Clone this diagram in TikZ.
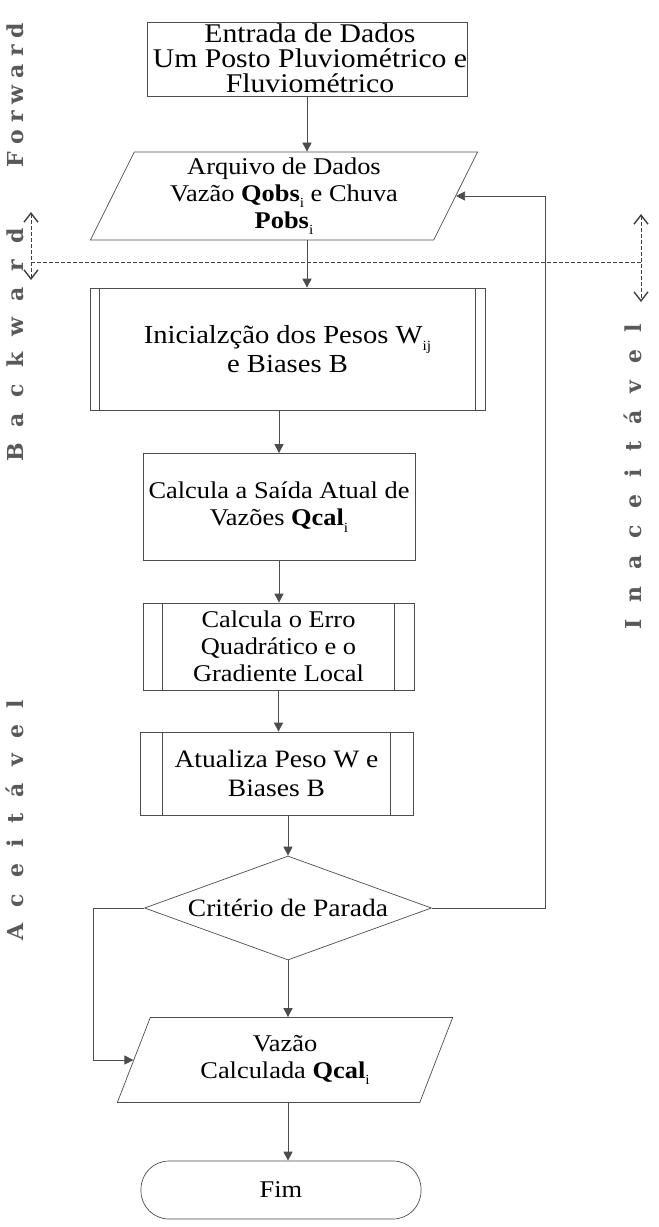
\documentclass[tikz,border=0pt]{standalone}
\usepackage{fontspec}
\setmainfont{Liberation Serif}[FakeStretch=1.1]
\newfontfamily\sidefont{DejaVu Serif}
\usetikzlibrary{shapes.geometric,arrows.meta,calc}
\makeatletter
\newcommand\spaced[2]{\@tfor\sp@c:=#2\do{\sp@c\hspace{#1}}\unskip}
\makeatother
\newcommand\sbs[1]{\raisebox{-0.6ex}{\fontsize{14}{14}\selectfont #1}}
\begin{document}
\begin{tikzpicture}[x=1pt,y=-1pt,
  line/.style={draw=black!70, line width=0.7pt},
  arr/.style={line, -{Triangle[length=9pt,width=9pt]}},
  txt/.style={align=center, inner sep=1pt, font=\fontsize{24}{27}\selectfont},
  box/.style={line, rectangle, txt},
  para/.style={line, txt, trapezium, trapezium stretches=true},
  dia/.style={line, txt, diamond, aspect=2.76, inner sep=0pt},
  dline/.style={draw=black!75, line width=0.7pt, dash pattern=on 4pt off 2pt},
  dbl/.style={dline, {Straight Barb[length=9pt,width=14pt,line width=1.4pt]}-{Straight Barb[length=9pt,width=14pt,line width=1.4pt]}},
  side/.style={font=\sidefont\bfseries\fontsize{22}{22}\selectfont, text=black!65, inner sep=0pt}
]
\useasboundingbox (0,0) rectangle (659,1227);

% box 1
\node[line, rectangle, minimum width=320, minimum height=74] (b1) at (307,59) {};
\node[txt, font=\fontsize{27}{25}\selectfont] (t1) at (310,58) {Entrada de Dados\\Um Posto Pluviométrico e\\Fluviométrico};

% data file
\node[para, trapezium left angle=67, trapezium right angle=113, minimum width=388, minimum height=88] (p1) at (284,196)
  {Arquivo de Dados\\Vazão \textbf{Qobs}\sbs{i} e Chuva\\\textbf{Pobs}\sbs{i}};

% init
\node[box, font=\fontsize{26}{29}\selectfont, minimum width=395, minimum height=122] (b3) at (287.5,349) {Inicialzção dos Pesos W\sbs{ij}\\e Biases B};
\draw[line] ([xshift=10pt]b3.north west) -- ([xshift=10pt]b3.south west);
\draw[line] ([xshift=-10pt]b3.north east) -- ([xshift=-10pt]b3.south east);

% output
\node[box, minimum width=272, minimum height=107] (b4) at (279,507) {Calcula a Saída Atual de\\Vazões \textbf{Qcal}\sbs{i}};

% error
\node[box, minimum width=271, minimum height=87] (b5) at (278.5,646.5) {Calcula o Erro\\Quadrático e o\\Gradiente Local};
\draw[line] ([xshift=20pt]b5.north west) -- ([xshift=20pt]b5.south west);
\draw[line] ([xshift=-20pt]b5.north east) -- ([xshift=-20pt]b5.south east);

% update
\node[box, font=\fontsize{25}{29}\selectfont, minimum width=273, minimum height=83] (b6) at (276.5,773.5) {Atualiza Peso W e\\Biases B};
\draw[line] ([xshift=23pt]b6.north west) -- ([xshift=23pt]b6.south west);
\draw[line] ([xshift=-23pt]b6.north east) -- ([xshift=-23pt]b6.south east);

% decision
\node[dia, font=\fontsize{25}{29}\selectfont, minimum width=287, minimum height=104] (d) at (288,908) {Critério de Parada};

% result
\node[para, trapezium left angle=68, trapezium right angle=112, minimum width=336, minimum height=85] (p2) at (285,1060)
  {Vazão\\Calculada \textbf{Qcal}\sbs{i}};

% end
\node[box, rounded corners=28pt, minimum width=280, minimum height=58] (f) at (281,1190) {Fim};

% connectors
\draw[arr] (b1.south) -- (b1.south |- p1.north);
\draw[arr] (b1.south |- p1.south) -- (b1.south |- b3.north);
\draw[arr] (b4.north |- b3.south) -- (b4.north);
\draw[arr] (b4.south) -- (b4.south |- b5.north);
\draw[arr] (b5.south) -- (b5.south |- b6.north);
\draw[arr] (d.north |- b6.south) -- (d.north);
\draw[arr] (d.south) -- (d.south |- p2.north);
\draw[arr] (d.south |- p2.south) -- (d.south |- f.north);

\coordinate (fbx) at (545,0);
\draw[arr] (d.east) -| (fbx |- p1.east) -- (p1.east);
\coordinate (lx) at (93,0);
\draw[arr] (d.west) -| (lx |- p2.west) -- (p2.west);

% forward / backward separator
\coordinate (la1) at (31,212);
\coordinate (la2) at (31,280);
\coordinate (ra1) at (641,214);
\coordinate (ra2) at (641,302);
\coordinate (hl) at (31,262);
\coordinate (hr) at (641,262);
\draw[dbl] (la1) -- (la2);
\draw[dbl] (ra1) -- (ra2);
\draw[dline] (hl) -- (hr);

% side labels
\node[side, rotate=90] (sF) at (15,95) {\spaced{7pt}{Forward}};
\node[side, rotate=90] (sB) at (15,345) {\spaced{16pt}{Backward}};
\node[side, rotate=90] (sI) at (633,477) {\spaced{17pt}{Inaceitável}};
\node[side, rotate=90] (sA) at (15,820) {\spaced{16pt}{Aceitável}};
\end{tikzpicture}
\end{document}
